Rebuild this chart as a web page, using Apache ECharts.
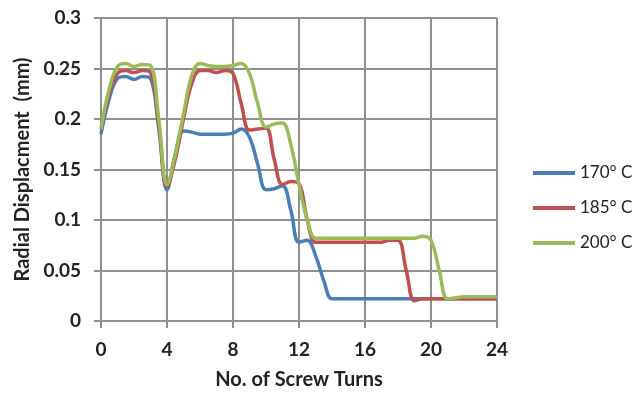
<!DOCTYPE html>
<html><head><meta charset="utf-8">
<script src="https://cdn.jsdelivr.net/npm/echarts@6/dist/echarts.min.js"></script>
<style>html,body{margin:0;padding:0;background:#fff}#c{width:641px;height:396px}</style>
</head><body><div id="c"></div>
<script>
const turns = [0,0.5,1,1.5,2,2.5,3,3.5,4,4.5,5,5.5,6,6.5,7,7.5,8,8.5,9,9.5,10,10.5,11,11.5,12,12.5,13,13.5,14,14.5,15,15.5,16,16.5,17,17.5,18,18.5,19,19.5,20,20.5,21,21.5,22,22.5,23,23.5,24];
const s170 = [0.185,0.22,0.24,0.242,0.239,0.242,0.24,0.19,0.13,0.165,0.188,0.187,0.185,0.185,0.185,0.185,0.186,0.19,0.182,0.155,0.13,0.131,0.134,0.11,0.078,0.08,0.065,0.04,0.022,0.022,0.022,0.022,0.022,0.022,0.022,0.022,0.022,0.022,0.022,0.022,0.022,0.022,0.022,0.022,0.022,0.022,0.022,0.022,0.022];
const s185 = [0.19,0.225,0.245,0.248,0.246,0.248,0.246,0.195,0.133,0.16,0.2,0.235,0.248,0.248,0.246,0.248,0.245,0.215,0.189,0.19,0.191,0.16,0.135,0.138,0.136,0.1,0.078,0.078,0.078,0.078,0.078,0.078,0.078,0.078,0.078,0.08,0.08,0.05,0.02,0.022,0.022,0.022,0.022,0.022,0.022,0.022,0.022,0.022,0.022];
const s200 = [0.19,0.23,0.252,0.255,0.252,0.254,0.253,0.2,0.135,0.165,0.205,0.243,0.255,0.253,0.252,0.252,0.253,0.255,0.245,0.215,0.192,0.195,0.196,0.175,0.135,0.1,0.082,0.082,0.082,0.082,0.082,0.082,0.082,0.082,0.082,0.082,0.082,0.082,0.082,0.084,0.08,0.05,0.022,0.023,0.024,0.024,0.024,0.024,0.024];
const seriesNames = ['170° C','185° C','200° C'];
const colors = ['#4A7EBB','#C0504D','#9BBB59'];
const xTicks = [0,4,8,12,16,20,24];
const yTicks = [0,0.05,0.1,0.15,0.2,0.25,0.3];

const font = 'Lato, "Open Sans", sans-serif';
const gridC = '#8f8f8f';
const chart = echarts.init(document.getElementById('c'), null, {renderer:'canvas'});
const all = [s170,s185,s200];
chart.setOption({
  animation:false,
  backgroundColor:'#fff',
  grid:{left:101,right:144,top:18,bottom:75},
  legend:{
    orient:'vertical', left:528, top:158,
    itemWidth:42, itemHeight:4, itemGap:15, itemTextGap:3, icon:'rect',
    textStyle:{fontFamily:font,fontSize:17,color:'#222',lineHeight:20},
    data:seriesNames
  },
  xAxis:{
    type:'value', min:0, max:24, interval:4,
    name:'No. of Screw Turns', nameLocation:'middle', nameGap:49,
    nameTextStyle:{fontFamily:font,fontSize:20,fontWeight:'bold',color:'#222'},
    axisLine:{lineStyle:{color:gridC,width:2}},
    axisTick:{show:true,length:7,lineStyle:{color:gridC,width:2}},
    axisLabel:{margin:19,fontFamily:font,fontSize:19,fontWeight:'bold',color:'#222',formatter:v=>xTicks.includes(v)?String(v):''},
    splitLine:{show:true,lineStyle:{color:gridC,width:2}}
  },
  yAxis:{
    type:'value', min:0, max:0.3, interval:0.05,
    name:'Radial Displacment  (mm)', nameLocation:'middle', nameGap:66,
    nameTextStyle:{fontFamily:font,fontSize:20,fontWeight:'bold',color:'#222'},
    axisLine:{show:true,lineStyle:{color:gridC,width:2}},
    axisTick:{show:true,length:7,lineStyle:{color:gridC,width:2}},
    axisLabel:{margin:20,fontFamily:font,fontSize:19,fontWeight:'bold',color:'#222',formatter:v=>{const t=yTicks.find(y=>Math.abs(y-v)<1e-9);return t===undefined?'':String(t);}},
    splitLine:{show:true,lineStyle:{color:gridC,width:2}}
  },
  series: seriesNames.map((n,i)=>({
    name:n, type:'line', smooth:0.4, showSymbol:false, symbol:'none',
    lineStyle:{color:colors[i],width:3.5},
    itemStyle:{color:colors[i]},
    data: turns.map((t,k)=>[t,all[i][k]])
  }))
});
</script></body></html>
